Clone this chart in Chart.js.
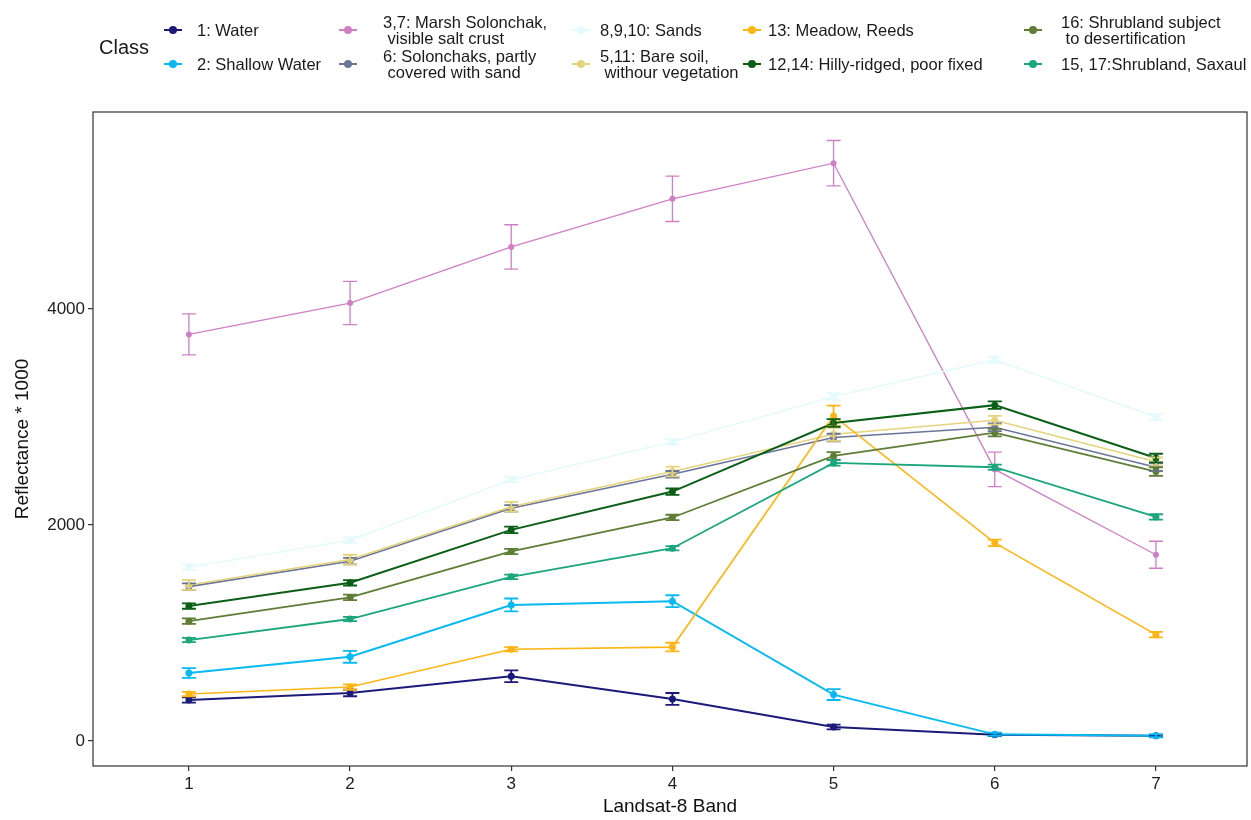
<!DOCTYPE html>
<html>
<head>
<meta charset="utf-8">
<script src="https://cdn.jsdelivr.net/npm/chart.js@4.4.1/dist/chart.umd.min.js"></script>
<style>
  html, body { margin: 0; padding: 0; background: #ffffff; }
  #wrap { position: relative; width: 1251px; height: 820px; font-family: "Liberation Sans", Arial, Helvetica, sans-serif; }
  #c { position: absolute; left: 0; top: 0; }
  #legend { position: absolute; left: 0; top: 0; width: 1251px; height: 100px; color: #1a1a1a; }
  .ttl { position: absolute; font-size: 20px; line-height: 20px; }
  .key { position: absolute; width: 18px; height: 10px; }
  .key .ln { position: absolute; left: 0; top: 4px; width: 18px; height: 2px; }
  .key .pt { position: absolute; left: 5px; top: 1px; width: 8px; height: 8px; border-radius: 50%; }
  .lab { position: absolute; font-size: 16.5px; line-height: 16px; white-space: pre; }
</style>
</head>
<body>
<div id="wrap">
  <canvas id="c" width="1251" height="820"></canvas>
  <div id="legend"></div>
</div>
<script>
// Landsat-8 bands on the x axis
const bands = [1, 2, 3, 4, 5, 6, 7];

// Class names (legend text, line breaks as printed)
const classNames = [
  "1: Water",
  "2: Shallow Water",
  "3,7: Marsh Solonchak,\n visible salt crust",
  "6: Solonchaks, partly\n covered with sand",
  "8,9,10: Sands",
  "5,11: Bare soil,\n withour vegetation",
  "13: Meadow, Reeds",
  "12,14: Hilly-ridged, poor fixed",
  "16: Shrubland subject\n to desertification",
  "15, 17:Shrubland, Saxaul"
];

const classColors = [
  "#1c1a78", "#08b9f2", "#cf80c5", "#6b7597", "#e4fafc",
  "#e4d47c", "#ffb515", "#0a5e16", "#5f7d36", "#1ca67e"
];

// Mean reflectance * 1000 per band
const water        = [380, 445, 600, 390, 130, 58, 48];
const shallowWater = [630, 780, 1260, 1295, 430, 62, 50];
const marsh        = [3765, 4055, 4575, 5020, 5350, 2515, 1725];
const solonchaks   = [1430, 1665, 2155, 2470, 2810, 2905, 2535];
const sands        = [1610, 1860, 2420, 2770, 3190, 3530, 3000];
const bareSoil     = [1445, 1680, 2170, 2495, 2840, 2970, 2585];
const meadow       = [435, 500, 850, 870, 3010, 1835, 985];
const hilly        = [1250, 1465, 1955, 2310, 2945, 3110, 2620];
const shrubDesert  = [1110, 1330, 1755, 2070, 2640, 2855, 2495];
const shrubSaxaul  = [935, 1130, 1520, 1785, 2575, 2535, 2075];

// Standard errors (half-length of the error bars)
const waterErr        = [25, 30, 55, 55, 22, 12, 10];
const shallowWaterErr = [45, 55, 60, 55, 50, 15, 15];
const marshErr        = [190, 200, 205, 210, 210, 160, 125];
const solonchaksErr   = [30, 30, 30, 30, 35, 35, 35];
const sandsErr        = [25, 25, 25, 25, 30, 30, 30];
const bareSoilErr     = [45, 45, 45, 45, 60, 40, 40];
const meadowErr       = [20, 25, 20, 40, 95, 30, 25];
const hillyErr        = [25, 25, 30, 30, 35, 35, 40];
const shrubDesertErr  = [25, 25, 25, 25, 35, 35, 40];
const shrubSaxaulErr  = [20, 20, 20, 20, 25, 25, 25];

const yTicks = [0, 2000, 4000];

const seriesValues = [water, shallowWater, marsh, solonchaks, sands, bareSoil, meadow, hilly, shrubDesert, shrubSaxaul];
const seriesErrors = [waterErr, shallowWaterErr, marshErr, solonchaksErr, sandsErr, bareSoilErr, meadowErr, hillyErr, shrubDesertErr, shrubSaxaulErr];
const lineWidths = [2, 2, 1.3, 1.6, 1.5, 1.6, 1.6, 2, 1.8, 1.8];

const datasets = classNames.map((name, i) => ({
  label: name.replace(/\n\s*/g, " "),
  data: bands.map((b, j) => ({ x: b, y: seriesValues[i][j] })),
  errors: seriesErrors[i],
  borderColor: classColors[i],
  backgroundColor: classColors[i],
  borderWidth: lineWidths[i],
  pointRadius: i === 2 ? 3 : 3.5,
  pointBorderWidth: 0,
  tension: 0,
  order: -i
}));

// Error bars with caps, drawn through the chart scales
const errorBars = {
  id: "errorBars",
  afterDatasetsDraw(chart) {
    const { ctx, scales: { x, y } } = chart;
    const cap = 7;
    ctx.save();
    chart.data.datasets.forEach((ds) => {
      ctx.strokeStyle = ds.borderColor;
      ctx.lineWidth = ds.borderWidth < 1.5 ? 1.3 : 1.8;
      ds.data.forEach((p, j) => {
        const e = ds.errors[j];
        const px = x.getPixelForValue(p.x);
        const top = y.getPixelForValue(p.y + e);
        const bot = y.getPixelForValue(p.y - e);
        ctx.beginPath();
        ctx.moveTo(px, top); ctx.lineTo(px, bot);
        ctx.moveTo(px - cap, top); ctx.lineTo(px + cap, top);
        ctx.moveTo(px - cap, bot); ctx.lineTo(px + cap, bot);
        ctx.stroke();
      });
    });
    ctx.restore();
  }
};

// Panel border around the plotting area
const panelBorder = {
  id: "panelBorder",
  afterDraw(chart) {
    const { ctx, chartArea: a } = chart;
    ctx.save();
    ctx.strokeStyle = "#333333";
    ctx.lineWidth = 1.2;
    ctx.strokeRect(a.left, a.top, a.right - a.left, a.bottom - a.top);
    ctx.restore();
  }
};

Chart.defaults.font.family = '"Liberation Sans", Arial, Helvetica, sans-serif';

new Chart(document.getElementById("c"), {
  type: "line",
  data: { datasets },
  options: {
    responsive: false,
    animation: false,
    layout: { padding: { top: 112, right: 3, left: 0, bottom: 0 } },
    plugins: { legend: { display: false }, tooltip: { enabled: false } },
    scales: {
      x: {
        type: "linear",
        min: 0.405,
        max: 7.565,
        afterBuildTicks: (s) => { s.ticks = bands.map(v => ({ value: v })); },
        afterFit: (s) => { s.height = 54; },
        grid: { display: true, drawOnChartArea: false, drawTicks: true, tickLength: 5, color: "#333333", lineWidth: 1.2 },
        border: { display: false },
        ticks: { color: "#222222", font: { size: 17 }, padding: 3, callback: (v) => String(v) },
        title: { display: true, text: "Landsat-8 Band", color: "#111111", font: { size: 19 }, padding: { top: 0, bottom: 2 } }
      },
      y: {
        type: "linear",
        min: -231,
        max: 5824,
        afterBuildTicks: (s) => { s.ticks = yTicks.map(v => ({ value: v })); },
        afterFit: (s) => { s.width = 93; },
        grid: { display: true, drawOnChartArea: false, drawTicks: true, tickLength: 5, color: "#333333", lineWidth: 1.2 },
        border: { display: false },
        ticks: { color: "#222222", font: { size: 17 }, padding: 3, callback: (v) => String(v) },
        title: { display: true, text: "Reflectance * 1000", color: "#111111", font: { size: 19 }, padding: { top: 11, bottom: 4 } }
      }
    }
  },
  plugins: [errorBars, panelBorder]
});

// Legend laid out in five columns of two entries, above the panel
const legend = document.getElementById("legend");
const title = document.createElement("div");
title.className = "ttl";
title.textContent = "Class";
title.style.left = "99px";
title.style.top = "37px";
legend.appendChild(title);

const colKeyX = [164, 339, 572, 743, 1024];
const colLabelX = [197, 383, 600, 768, 1061];
const rowCenterY = [30, 64];
classNames.forEach((name, i) => {
  const col = Math.floor(i / 2), row = i % 2;
  const key = document.createElement("div");
  key.className = "key";
  key.style.left = colKeyX[col] + "px";
  key.style.top = (rowCenterY[row] - 5) + "px";
  key.innerHTML = '<div class="ln"></div><div class="pt"></div>';
  key.querySelector(".ln").style.background = classColors[i];
  key.querySelector(".pt").style.background = classColors[i];
  legend.appendChild(key);

  const lab = document.createElement("div");
  lab.className = "lab";
  lab.textContent = name;
  const lines = name.split("\n").length;
  lab.style.left = colLabelX[col] + "px";
  lab.style.top = (rowCenterY[row] - lines * 8) + "px";
  legend.appendChild(lab);
});
</script>
</body>
</html>
